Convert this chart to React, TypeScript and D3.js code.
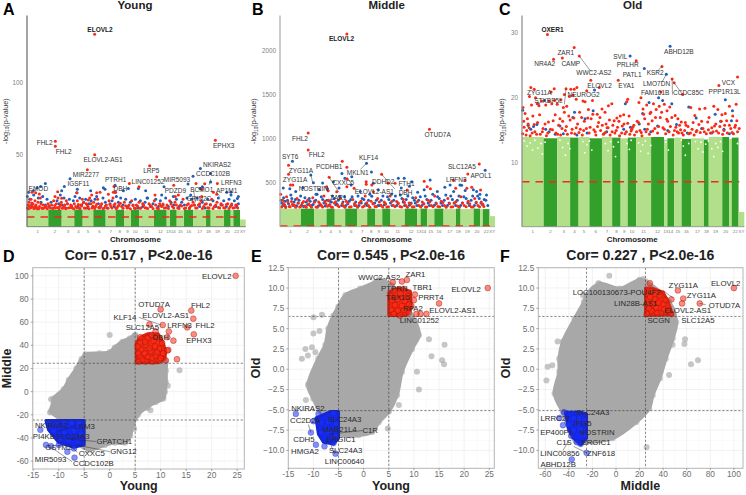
/** Six panel figure: Manhattan plots per age group, and pairwise effect size scatters. */
import * as d3 from "d3";

type Pt = [number, number];
type Lab = [string, number, number];
type Seg = [number, number, number, number];

const FONT = "'Liberation Sans', Arial, sans-serif";
const LIGHT_GREEN = "#b2df8a";
const DARK_GREEN = "#33a02c";
const RED_DOT = "#fb2a16";
const BLUE_DOT = "#1f5fb8";
const CLOUD_GREY = "#a8a8a8";

// Chromosome widths are the number of probes on it, in plot units
const chromNames = ["1", "2", "3", "4", "5", "6", "7", "8", "9", "10", "11", "12", "13", "14", "15", "16", "17", "18", "19", "20", "", "22", "XY"];
const chromSizes = [64, 40, 38, 25, 32, 37, 30, 25, 21, 25, 44, 38, 10, 20, 22, 28, 38, 14, 40, 20, 8, 20, 17];

// Top of the solid band per chromosome
const youngTops = [11.8, 11.8, 11.6, 11.9, 11.7, 11.8, 11.6, 11.8, 11.5, 11.8, 11.7, 11.8, 11.6, 11.8, 11.5, 11.8, 11.7, 11.8, 11.7, 11.8, 11.5, 11.6, 5];
const middleTops = [205, 205, 200, 205, 200, 205, 200, 205, 200, 205, 200, 205, 200, 205, 200, 205, 200, 205, 200, 205, 200, 200, 120];
const oldTops = [14, 13.8, 14, 13.9, 14, 13.8, 14, 13.9, 13.8, 13.9, 14, 14, 13.6, 13.8, 13.9, 13.7, 13.8, 13.6, 14, 14, 13.7, 13.9, 2.5];

const youngRed: Pt[] = [[203, 133.6], [85, 59.3], [85, 55.8], [203, 50], [181, 39.6], [565, 60], [368, 42.4], [389, 34.7], [261, 28], [307, 30], [336, 27.8], [440, 28.7], [571, 30], [507, 30], [533, 29.9],
  [524, 26], [559, 24], [569, 22.5], [524, 21], [384, 22], [454, 22], [445, 21], [259, 24], [266, 24], [244, 22.5], [15, 24], [26, 23.6], [37, 22.7], [92, 24.3], [84, 21], [149, 23.6], [209, 23.6], [219, 24], [104, 19.7], [184, 18.5], [194, 22],
  [3, 15], [6, 17], [9, 13], [12, 19], [16, 14], [18, 16], [22, 13], [24, 18], [27, 15], [31, 12.5], [33, 17], [37, 14], [40, 20], [44, 13], [49, 15], [52, 13], [58, 14], [63, 16], [70, 13], [74, 15], [80, 18], [85, 13], [88, 16], [93, 20], [98, 14], [103, 17], [108, 13], [113, 15], [118, 18], [124, 13], [131, 15], [136, 13], [142, 16], [146, 14], [151, 18], [156, 13], [161, 15], [166, 19], [172, 13], [178, 16], [183, 14], [188, 20], [195, 13], [200, 17], [206, 14], [212, 19], [218, 13], [224, 16], [232, 13], [238, 15], [246, 18], [252, 14], [258, 20], [264, 16], [270, 13], [276, 15], [284, 14], [292, 17], [300, 13], [306, 15], [314, 18], [322, 13], [328, 15], [336, 17], [342, 13], [350, 15], [358, 13], [366, 16], [374, 14], [382, 18], [390, 13], [398, 16], [404, 14], [412, 13], [420, 15], [428, 18], [436, 14], [444, 17], [452, 13], [460, 15], [468, 19], [476, 13], [484, 16], [490, 14], [498, 17], [506, 13], [514, 15], [522, 18], [530, 14], [538, 16], [546, 13], [554, 19], [562, 14], [570, 17], [578, 13], [586, 15], [594, 13], [602, 16], [610, 14], [618, 13], [626, 15], [632, 13],
  [1, 13], [4, 12.5], [7, 14.6], [11, 13.2], [14, 16.5], [20, 12.6], [25, 14.3], [29, 13.4], [35, 12.4], [42, 15.8], [47, 12.7], [55, 13.6], [61, 12.5], [67, 14.5], [77, 12.6], [83, 14.8], [91, 13.3], [96, 12.4], [101, 15], [106, 12.8], [111, 14], [116, 12.4], [121, 16], [128, 13.2], [134, 14.5], [140, 12.5], [149, 13.2], [154, 15.4], [159, 12.6], [164, 14.3], [169, 16.6], [175, 12.8], [181, 15.2], [186, 12.5], [192, 16], [198, 14.2], [203, 12.6], [209, 15.6], [215, 13.3], [221, 14.8], [228, 12.6], [235, 14.4], [243, 12.8], [249, 15.5], [255, 13], [261, 15], [267, 12.6], [273, 14.2], [280, 16.2], [288, 12.8], [296, 14.6], [303, 13.2], [310, 12.5], [318, 14.7], [325, 12.6], [332, 14.2], [339, 12.8], [347, 16], [354, 13.2], [362, 12.6], [370, 14.8], [378, 12.7], [386, 15], [394, 12.5], [401, 14.6], [408, 15.8], [416, 13.2], [424, 12.7], [432, 15.8], [440, 13], [448, 15], [456, 12.6], [464, 14.3], [472, 12.7], [480, 15], [487, 12.6], [494, 14.7], [502, 15], [510, 13], [518, 16], [526, 12.6], [534, 15.6], [542, 13.2], [550, 15.5], [558, 12.7], [566, 15], [574, 13.3], [582, 16], [590, 13.1], [598, 15.4], [606, 12.7], [614, 15.7], [622, 13.2], [629, 15.1]];
const youngBlue: Pt[] = [[55, 30], [41, 28], [5, 24], [19, 25], [30, 27], [129, 33.3], [112, 28], [104, 25], [151, 26], [150, 23.5], [191, 25], [229, 27], [234, 26], [209, 21], [304, 26.6], [264, 28.7], [264, 24], [289, 25], [356, 25], [334, 26.6], [411, 27.8], [483, 29.6], [498, 35], [520, 40.5], [551, 31], [551, 37], [519, 26.6], [526, 27.8], [491, 22], [599, 24], [612, 24], [612, 22], [634, 21], [631, 19.5], [404, 22], [439, 21], [360, 20],
  [1, 21], [8, 19], [14, 15], [20, 22], [25, 13], [34, 20], [42, 17], [47, 21], [55, 15], [60, 19], [66, 14], [72, 17], [78, 13], [90, 18], [96, 16], [100, 22], [106, 15], [111, 20], [116, 13], [121, 16], [127, 19], [133, 14], [139, 18], [144, 21], [153, 14], [158, 20], [164, 15], [170, 17], [176, 19], [181, 13], [186, 16], [192, 18], [198, 14], [204, 19], [214, 16], [221, 14], [228, 20], [235, 17], [241, 13], [249, 16], [255, 18], [262, 14], [268, 21], [274, 17], [281, 20], [288, 15], [296, 19], [303, 14], [310, 17], [318, 15], [325, 19], [332, 13], [340, 18], [347, 14], [354, 17], [362, 20], [370, 14], [378, 16], [386, 19], [394, 14], [400, 18], [408, 15], [416, 20], [424, 14], [432, 17], [440, 15], [448, 19], [456, 14], [464, 17], [472, 15], [480, 20], [487, 13], [494, 19], [502, 15], [510, 20], [518, 14], [526, 17], [534, 13], [542, 19], [550, 15], [558, 18], [566, 14], [574, 20], [582, 15], [590, 18], [598, 14], [606, 19], [614, 15], [622, 18], [629, 14], [634, 16]];

const middleRed: Pt[] = [[204, 2190], [456, 1107], [86, 1065], [86, 872], [608, 712], [573, 599], [26, 697], [26, 595], [190, 743], [204, 675], [150, 561], [310, 595], [263, 512], [263, 481], [39, 474], [32, 474], [440, 515], [449, 455], [459, 432], [529, 527], [564, 530], [536, 436], [570, 436], [585, 447], [612, 417], [351, 493], [330, 493], [388, 417], [204, 542], [204, 455], [226, 436], [142, 455], [147, 409], [173, 398], [280, 474], [285, 398],
  [2, 370], [8, 300], [14, 250], [20, 340], [28, 230], [35, 285], [44, 245], [52, 320], [60, 225], [68, 270], [76, 235], [84, 300], [92, 240], [100, 330], [110, 225], [118, 280], [126, 240], [134, 350], [140, 260], [148, 300], [156, 225], [166, 270], [176, 240], [184, 320], [194, 235], [202, 290], [212, 225], [222, 310], [232, 240], [242, 270], [252, 225], [260, 350], [270, 240], [278, 290], [290, 230], [298, 320], [308, 245], [318, 280], [326, 225], [336, 350], [346, 240], [356, 285], [366, 230], [376, 310], [384, 240], [394, 270], [404, 225], [414, 330], [424, 240], [434, 280], [444, 225], [452, 300], [462, 240], [472, 350], [482, 230], [492, 290], [502, 240], [512, 320], [522, 225], [532, 270], [542, 235], [552, 340], [562, 240], [574, 290], [584, 225], [594, 320], [604, 240], [614, 280], [622, 230],
  [5, 225], [11, 262], [17, 218], [24, 280], [31, 226], [38, 255], [48, 222], [56, 268], [64, 232], [72, 286], [80, 222], [88, 258], [96, 222], [105, 278], [114, 220], [122, 260], [130, 225], [137, 288], [145, 232], [152, 252], [160, 222], [170, 284], [180, 226], [190, 260], [198, 222], [207, 270], [217, 228], [227, 262], [237, 222], [247, 290], [257, 236], [265, 272], [274, 222], [284, 262], [294, 226], [303, 280], [313, 224], [322, 258], [331, 226], [341, 286], [351, 226], [361, 264], [371, 224], [380, 276], [389, 222], [399, 258], [409, 228], [419, 284], [429, 224], [439, 262], [448, 224], [457, 280], [467, 226], [477, 260], [487, 226], [497, 276], [507, 222], [517, 262], [527, 226], [537, 284], [547, 222], [557, 268], [568, 226], [579, 262], [589, 224], [599, 278], [609, 226], [619, 256]];
const middleBlue: Pt[] = [[38, 743], [626, 640], [94, 587], [102, 500], [189, 603], [130, 496], [264, 720], [279, 622], [163, 512], [198, 550], [217, 474], [219, 568], [285, 493], [361, 550], [379, 550], [402, 512], [458, 530], [503, 447], [519, 474], [549, 474], [554, 470], [565, 410], [10, 440], [30, 430], [48, 400], [70, 446], [120, 420], [110, 370], [145, 430], [180, 440], [245, 400], [300, 420], [340, 370], [370, 440], [395, 460], [420, 390], [440, 420], [480, 400], [530, 400], [590, 420], [600, 400], [610, 370], [630, 360],
  [5, 270], [11, 330], [17, 230], [23, 300], [33, 360], [40, 240], [47, 310], [55, 270], [63, 350], [72, 230], [80, 280], [89, 320], [97, 240], [105, 290], [113, 370], [122, 250], [130, 310], [138, 235], [152, 290], [160, 350], [170, 250], [178, 300], [188, 240], [197, 340], [207, 260], [216, 310], [228, 240], [238, 350], [248, 270], [256, 310], [266, 240], [274, 370], [284, 260], [294, 300], [304, 240], [314, 350], [322, 260], [332, 310], [342, 240], [352, 350], [360, 270], [372, 320], [380, 240], [390, 350], [400, 270], [410, 300], [418, 240], [428, 340], [438, 260], [448, 310], [456, 240], [466, 370], [476, 270], [486, 320], [496, 240], [506, 360], [516, 270], [526, 310], [536, 240], [546, 350], [556, 270], [568, 320], [578, 240], [588, 350], [598, 270], [608, 320], [618, 250], [628, 300], [634, 240],
  [3, 300], [9, 240], [15, 290], [26, 262], [36, 320], [43, 280], [51, 238], [58, 300], [66, 246], [76, 330], [84, 248], [92, 290], [101, 252], [109, 300], [117, 235], [126, 340], [134, 270], [143, 300], [149, 240], [157, 280], [165, 320], [174, 258], [182, 345], [192, 280], [201, 240], [211, 290], [220, 340], [231, 280], [241, 240], [251, 320], [261, 260], [270, 300], [280, 345], [289, 270], [299, 240], [309, 300], [318, 250], [328, 340], [337, 270], [347, 300], [356, 240], [367, 360], [376, 280], [385, 310], [395, 245], [405, 330], [413, 270], [423, 300], [433, 240], [443, 350], [452, 270], [461, 300], [471, 245], [481, 340], [491, 270], [501, 300], [511, 240], [521, 350], [531, 270], [541, 300], [551, 240], [561, 340], [573, 270], [583, 300], [593, 240], [603, 350], [613, 270], [623, 310]];

const oldRed: Pt[] = [[75, 29.7], [154, 27.7], [93, 25.9], [119, 26.1], [169, 26.4], [337, 25.7], [413, 24.8], [203, 22.7], [284, 22.7], [443, 22.9], [449, 22.3], [474, 20.5], [636, 23.2], [581, 21.9], [26, 21.6], [36, 21.3], [95, 21.4], [130, 21.4], [144, 21.3], [162, 21.6], [154, 21.3], [228, 21.6], [191, 21.1], [125, 20.5], [86, 20.9], [410, 20.9], [351, 20], [312, 19.8], [309, 19.4],
  [3, 18.5], [9, 17.6], [16, 16.8], [22, 20.2], [28, 18.9], [40, 20], [45, 19.1], [50, 18.8], [58, 19.5], [70, 18.9], [80, 19.5], [88, 19.1], [96, 19.6], [104, 19], [115, 19.7], [122, 18.5], [132, 18.7], [140, 20.2], [150, 20.4], [160, 19.8], [170, 17.8], [180, 19.5], [186, 19.4], [196, 18.2], [208, 19.6], [222, 17.5], [236, 18.3], [245, 17.8], [255, 18.8], [265, 19.1], [280, 16.9], [290, 17.2], [300, 17.4], [327, 15.5], [345, 19.3], [357, 18.3], [368, 18.9], [378, 17.6], [388, 19.1], [396, 18.2], [405, 18.7], [420, 19], [428, 18], [436, 18.6], [452, 17.3], [460, 16.8], [470, 16.3], [482, 16.2], [498, 18.5], [510, 17.3], [524, 18.3], [540, 18.4], [552, 17], [566, 18.7], [578, 18.2], [590, 17.4], [600, 17.6], [612, 18.7], [622, 17.2], [632, 19],
  [2, 14.5], [6, 15.5], [12, 14.3], [18, 16], [24, 14.2], [32, 17.2], [38, 14.8], [46, 16.2], [54, 14.4], [62, 15.3], [72, 14.2], [78, 16.3], [84, 15.2], [92, 16.5], [100, 14.6], [108, 15.8], [114, 14.3], [120, 16.4], [128, 15], [134, 14.4], [142, 16.6], [148, 15.2], [156, 14.5], [164, 16], [172, 15.2], [178, 14.3], [184, 16.4], [190, 15.3], [198, 14.6], [204, 16.8], [212, 15.1], [218, 14.3], [226, 16.2], [232, 15], [240, 14.4], [248, 16], [254, 15.4], [260, 14.3], [268, 15.8], [274, 14.6], [282, 15.5], [288, 14.2], [296, 15.7], [304, 14.5], [312, 16.1], [318, 14.4], [324, 15.2], [332, 14.3], [340, 16.4], [348, 15], [354, 14.2], [362, 16.8], [370, 15.2], [376, 14.4], [384, 16.5], [392, 15.3], [400, 14.6], [408, 17], [416, 15.4], [424, 14.5], [430, 16.4], [438, 15.6], [446, 14.3], [454, 15.5], [462, 14.6], [468, 15.1], [476, 14.3], [484, 15.8], [492, 14.5], [502, 15.2], [508, 14.3], [516, 15], [526, 14.7], [534, 15.3], [544, 14.5], [550, 15.1], [560, 15.4], [568, 15.7], [574, 14.9], [584, 15.6], [592, 14.4], [598, 15.8], [606, 14.6], [616, 15.3], [624, 14.5], [630, 15.8], [636, 14.8], [641, 15.3],
  [5, 16.4], [14, 15], [21, 15.4], [30, 14.6], [36, 15.9], [43, 14.4], [52, 17.4], [60, 14.8], [68, 16], [76, 14.6], [90, 15.1], [98, 17.4], [105, 14.4], [112, 16.8], [118, 15.3], [125, 17.8], [131, 15.6], [138, 17.2], [146, 14.6], [153, 16.9], [160, 15.4], [168, 14.7], [176, 17], [182, 15], [194, 16.9], [201, 15.5], [209, 17.5], [216, 14.8], [223, 15.6], [230, 17], [237, 15.8], [246, 14.7], [251, 15.4], [258, 16.6], [266, 14.8], [272, 16.5], [278, 15], [286, 16.4], [294, 14.6], [301, 16], [308, 14.8], [316, 17.2], [322, 14.9], [330, 15.8], [338, 14.8], [344, 16.2], [352, 14.7], [359, 17.5], [366, 14.8], [373, 16], [380, 17.8], [386, 14.9], [394, 17], [403, 15.6], [412, 17.8], [420, 15.2], [427, 16.7], [434, 14.8], [442, 17], [450, 15], [458, 14.8], [465, 15.8], [472, 14.6], [480, 15], [490, 15.6], [497, 14.6], [505, 16.2], [514, 14.8], [522, 15.9], [530, 16.4], [538, 14.8], [548, 16.3], [556, 14.6], [564, 14.8], [572, 16], [580, 14.6], [588, 16.4], [596, 15], [604, 16.5], [612, 15.8], [620, 14.7], [628, 15.5], [634, 16.5]];
const oldBlue: Pt[] = [[319, 26.4], [437, 27.9], [361, 24.5], [426, 23.6], [214, 21.2], [600, 19.7], [621, 18], [403, 20], [415, 19.6], [305, 19.1], [375, 19.3], [442, 19.1], [492, 18.6], [155, 17.8], [210, 18], [66, 19.6], [2, 18.1], [48, 19.1], [18, 15.8], [26, 15.2], [34, 15.6], [44, 15.9], [70, 15.2], [80, 14.8], [98, 14.4], [112, 15.7], [122, 14.5], [150, 17], [162, 14.3], [186, 16.8], [192, 14.6], [242, 14.5], [250, 14.8], [300, 15.2], [320, 15.5], [346, 16], [356, 17.6], [362, 15.2], [380, 14.8], [400, 15.7], [430, 15], [456, 15.9], [488, 14.6], [514, 16.9], [530, 15.3], [560, 14.6], [570, 17.5], [586, 16.4], [596, 15.2], [612, 14.5], [618, 16.5]];

// Gaps in the top of the solid Old band
const oldGaps: Pt[] = [[6, 13.4], [15, 12.6], [24, 13.1], [31, 12], [38, 13.5], [47, 12.3], [56, 13], [60, 11.4], [68, 13.2], [112, 13.5], [120, 12.4], [128, 11.2], [136, 13], [141, 12.2], [180, 13.3], [185, 11.6], [192, 12.8], [199, 13.4], [206, 12], [246, 13], [254, 11.9], [262, 13.3], [270, 12.5], [276, 11], [284, 13.2], [310, 13], [317, 12.1], [322, 13.5], [344, 13.1], [350, 11.8], [356, 12.8], [364, 13.4], [372, 11.5], [380, 12.7], [424, 13.2], [432, 12], [470, 13.5], [476, 12.6], [482, 11.2], [492, 13], [512, 13.3], [520, 12.2], [528, 13.2], [534, 11.7], [542, 12.9], [550, 13.4], [560, 12.2], [566, 11], [572, 13], [578, 12.4], [586, 13.3], [592, 11.8], [636, 13]];

const youngLabels: Lab[] = [["FHL2", 53, 58.3], ["FHL2", 110, 52.3], ["ELOVL2-AS1", 228, 46.3], ["MIR2277", 177, 36.1], ["IGSF11", 154, 29.6], ["EMOD", 34, 26.4], ["PTRH1", 266, 32.6], ["DBH", 280, 26.2], ["LINC01252", 363, 31.3], ["LRP5", 373, 38.7], ["MIR5093", 450, 32.4], ["PDZD9", 445, 25.2], ["BCMO1", 524, 25.9], ["GRIN2C", 516, 19.2], ["NKIRAS2", 570, 43.3], ["CCDC102B", 558, 36.8], ["LRFN3", 613, 30.8], ["EPHX3", 590, 56.2], ["AP1M1", 599, 24.8]];
const middleLabels: Lab[] = [["FHL2", 61, 1000], ["FHL2", 112, 815], ["OTUD7A", 481, 1050], ["SYT6", 31, 796], ["ZYG11A", 64, 637], ["ZYG11A", 46, 534], ["PCDHB1", 150, 686], ["NOSTRIN", 102, 436], ["KLF14", 270, 781], ["MKLN1", 237, 614], ["CXXC5", 193, 504], ["ELOVL2-AS1", 288, 402], ["DDHD2", 315, 512], ["FTH1", 386, 493], ["DBH", 383, 387], ["SLC12A5", 555, 682], ["APOL1", 613, 584], ["LRFN3", 538, 534], ["ZAR1", 178, 334]];
const oldLabels: Lab[] = [["ZAR1", 129, 26.9], ["NR4A2", 67, 25.2], ["CAMP", 144, 25.2], ["WWC2-AS2", 212, 23.9], ["SVIL", 290, 26.3], ["PRLHR", 312, 25], ["PATL1", 325, 23.5], ["ABHD12B", 463, 27.1], ["KSR2", 393, 23.8], ["LMO7DN", 397, 22.2], ["EYA1", 308, 21.9], ["ELOVL2", 229, 21.9], ["NEUROG2", 182, 20.5], ["ZYG11A", 51, 20.8], ["STXBP5L", 78, 19.5], ["FAM161B", 393, 20.8], ["CCDC85C", 491, 20.8], ["VCX", 609, 22.3], ["PPP1R13L", 598, 21]];

const youngLinks: Seg[] = [[505, 17, 500, 25], [551, 33, 546, 29], [569, 24, 578, 21]];
const middleLinks: Seg[] = [[264, 720, 245, 650], [94, 587, 100, 500], [310, 595, 350, 430], [219, 480, 205, 560], [150, 561, 180, 390]];
const oldLinks: Seg[] = [[169, 26.4, 204, 24], [125, 19, 130, 21.4], [413, 24.8, 398, 24], [426, 23.6, 413, 22.4], [443, 22.9, 444, 20.5], [449, 22.3, 474, 20.5]];

// Scatter panels: outline of the grey cloud, lone grey points, coloured groups
const dCloud: Pt[] = [[-4.7, 32], [-2, 33], [0, 34], [1, 38], [2.5, 43], [4, 46], [5, 49], [6, 40], [8, 38], [10, 35], [11, 26], [11, 18], [11, 8], [10.8, 0], [10.5, -6], [9, -9], [7, -14], [5.5, -20], [4.5, -29], [4, -38], [3, -44], [1, -44], [-1, -46], [-4, -50], [-6, -45], [-8, -25], [-10, -22], [-11.5, -17], [-11, -9], [-11, -6], [-9, 2], [-8, 10], [-6.5, 20], [-5.5, 28]];
const dOutliers: Pt[] = [[13.7, 18.5], [0, 49], [5, 48], [11.4, 5], [10.5, -4], [-11.5, -6.5], [-11.7, -18], [-11, -12], [7.5, -14], [8, -16], [4.8, -32]];
const dRedArea: Pt[] = [[5.2, 25], [5.2, 42], [6, 47], [7.5, 50], [9.5, 50], [10.4, 43], [11, 35], [10.8, 28], [9.5, 25]];
const dRed: Pt[] = [[24.7, 100], [10, 71], [16, 70], [16.4, 63], [15.2, 55.5], [16.5, 49.5], [12.5, 44], [11.5, 36], [13.2, 28], [10.4, 57.5], [11.6, 52], [11.3, 47], [10.3, 42], [11.3, 35.5], [7.8, 58], [9, 52], [8.2, 49], [7.4, 46], [6, 47], [5.9, 42], [7.2, 40], [8.6, 44], [9.8, 46], [6.2, 36], [8, 35], [9.7, 37], [10.5, 33], [6, 30], [7.5, 30], [9, 31], [5.7, 26], [7, 26], [8.4, 26], [9.8, 27], [11, 27], [6.8, 33], [8.9, 39], [5.5, 39], [7, 43], [10, 29], [6.4, 27.5], [7.8, 37.5], [9.3, 34], [8.3, 29], [5.6, 33]];
const dBlueArea: Pt[] = [[-12.5, -25], [-12, -33], [-10, -44], [-7, -48], [-5, -46], [-5, -25]];
const dBlue: Pt[] = [[-13.6, -33], [-12.5, -46], [-11.5, -47], [-8.3, -52], [-6.9, -57], [-10, -46], [-7, -49], [-12, -27], [-10.5, -28], [-9, -27], [-7.5, -27], [-6, -27], [-11, -34], [-9, -35], [-7, -34], [-5.6, -36], [-9.7, -41], [-8, -42], [-6.3, -43]];
const dLabels: Lab[] = [["ELOVL2", 21, 99.3], ["OTUD7A", 8.7, 75.4], ["FHL2", 17.8, 74.5], ["ELOVL2-AS1", 11, 65.9], ["KLF14", 3, 64.2], ["LRFN3", 13.7, 57.3], ["FHL2", 18.7, 57.6], ["SLC12A5", 6.4, 55.5], ["DBH", 10, 47.2], ["EPHX3", 17.5, 44], ["NKIRAS2", -11.4, -29], ["LSM3", -4.9, -30], ["PI4KB", -12.9, -38.3], ["SLC24A3", -7.2, -38.8], ["GPATCH1", 0.9, -43.2], ["GNG12", 2.7, -51.8], ["CXXC5", -3.5, -53], ["GSTM2", -10, -48.3], ["MIR5093", -11.6, -58], ["CCDC102B", -3.2, -61.9]];
const dLinks: Seg[] = [[5.7, 64.2, 10.1, 57.5], [-8.3, -41, -2.7, -43], [-6.6, -46, 0, -51.8], [-7.6, -47.5, -6.3, -52.4], [-12.2, -46, -7.4, -60.4], [-10.2, -34.5, -7, -30.2]];

const eCloud: Pt[] = [[2.3, 10.7], [-0.7, 9.9], [-3.6, 9.1], [-5, 7.7], [-6, 6.6], [-7, 5], [-7.6, 3], [-9, 1.3], [-11, -2], [-10, -3.6], [-8.6, -5.2], [-4.3, -8.1], [-1, -8.1], [1.7, -7.7], [3, -6.5], [5, -5.2], [6.6, -3.2], [7.6, -0.3], [9.6, 2.5], [11, 4.2], [10.3, 5.8], [8.3, 7.9], [5.6, 10.3], [3, 11]];
const eOutliers: Pt[] = [[13, 3.7], [16.1, 3], [15.6, 1.1], [16, 0.6], [13.5, 1.6], [10.6, -0.3], [11, -2.5], [-11.1, 1.7], [-12.3, 1.3], [-10.3, 2.7], [-10, 4.4], [-11.6, 2.5], [-9.6, 2.1], [-11, -1.8], [-11.5, -3.8], [7, -4.4], [4.8, -7.3], [-10, 6.4], [-8.3, 6.7], [-5, 7.5], [-8.8, 4.7]];
const eRedArea: Pt[] = [[5, 6.6], [5, 9.5], [7, 10], [9.3, 9.6], [9.5, 7.5], [8.5, 6.6]];
const eRed: Pt[] = [[24.7, 10], [15, 8.1], [5.8, 10.7], [8.6, 11], [7.6, 10.8], [12.5, 6.8], [11.3, 6.8], [10.2, 9.2], [10, 8.5], [9.5, 7.8], [6, 9.7], [8, 9.9], [5.6, 8.5], [6.8, 8.6], [8.2, 8.4], [5.5, 7.3], [6.8, 7.2], [8, 7.3], [9, 7], [6, 6.8], [7.2, 6.6], [10.5, 6.8], [5.4, 9], [7.3, 9.3], [8.8, 9], [6.2, 7.9], [7.6, 7.8], [9, 8]];
const eBlueArea: Pt[] = [[-9.5, -6], [-6.5, -5.2], [-5, -5.2], [-5, -8.5], [-6, -9.2], [-8, -9], [-9, -8]];
const eBlue: Pt[] = [[-13.5, -5.5], [-10.5, -7.8], [-9.5, -9.3], [-7.8, -9.5], [-6, -9.1], [-5.6, -10.4], [-10, -6.4], [-9, -5.5], [-6, -5.4], [-8.5, -6.6], [-7, -6.5], [-5.5, -6.7], [-8.5, -7.8], [-7, -7.8], [-5.6, -8]];
const eLabels: Lab[] = [["ELOVL2", 20.4, 9.9], ["ZAR1", 10.3, 11.7], ["WWC2-AS2", 3.1, 11.3], ["PTPRN", 6.1, 10], ["TBR1", 11.7, 10.1], ["TBX15", 6.8, 8.8], ["PRRT4", 13.4, 8.8], ["RPA2", 9.8, 7.55], ["ELOVL2-AS1", 17.7, 7.27], ["LINC01252", 11.1, 6], ["NKIRAS2", -11.1, -4.84], ["CC2D2A", -11.6, -6.3], ["SLC24A3", -3.8, -6.2], ["MAB21L4", -4.8, -7.43], ["C1R", 1.3, -7.55], ["CDH5", -11.9, -8.6], ["ERGIC1", -4.5, -8.6], ["HMGA2", -11.7, -10.1], ["SLC24A3", -3.6, -10], ["LINC00640", -3.8, -11.3]];
const eLinks: Seg[] = [[-11, -6.8, -10.5, -7.8], [-7, -8, -0.2, -7.55], [-6.5, -7.9, -5.8, -8.3], [-5.8, -10.4, -6.5, -9.4]];

const fCloud: Pt[] = [[-25, 9.1], [-14, 10.5], [3, 9.9], [20, 11], [25, 10.8], [45, 8.3], [51, 5.8], [48, 3.8], [42, 1.3], [37, -1.1], [31, -3.2], [28, -4.8], [17, -6.5], [-3, -8.5], [-20, -8.9], [-34, -8.9], [-45, -5.3], [-52, -3], [-48, -0.3], [-48, 1.3], [-45, 3.4], [-35, 6.2], [-27, 8.3]];
const fOutliers: Pt[] = [[63.6, 0.6], [69.5, 1.1], [58.5, 3.7], [58, 3.1], [-54, 0.5], [-58, 0.3], [-59, -1.4], [-51, -2.8], [-49.5, 3.4], [26, -9.6], [37, -0.1], [45, -0.7], [48, 3], [-5.7, 11.5], [20, 10.9], [23, 11.1], [-28, 9.1], [-15, 10.6]];
const fRedArea: Pt[] = [[25, 6.6], [25, 10], [30, 10], [40, 9.5], [45, 8], [48, 6.7]];
const fRed: Pt[] = [[100, 10], [71, 8.1], [52.5, 9.7], [57, 8.7], [56, 8.1], [47, 8.6], [42, 8.5], [28.7, 10.6], [30, 9.6], [37, 9.1], [26, 9.3], [33, 8.6], [40, 8], [27, 8], [34, 7.6], [44, 7.2], [30, 7.2], [26, 6.8], [38, 6.9], [47, 6.8], [29, 8.9], [36, 8.2], [31, 8], [41, 7.4], [28, 7.5], [35, 6.9]];
const fBlueArea: Pt[] = [[-43, -5.3], [-30, -5.3], [-25, -5.5], [-25, -8.5], [-30, -9.3], [-36, -8.5], [-40, -7.5]];
const fBlue: Pt[] = [[-37.5, -11.1], [-48, -6], [-45, -6.9], [-44, -5.3], [-25, -10.3], [-30, -9.2], [-33, -9], [-38, -8.2], [-40, -6.8], [-36, -6], [-31, -6.1], [-27, -6.3], [-36, -7.5], [-30, -7.4], [-26, -8.1]];
const fLabels: Lab[] = [["ELOVL2", 93, 10.6], ["ZYG11A", 57, 10.3], ["ZYG11A", 72.4, 9.07], ["LOC100130673-POU4F2", 0.6, 9.44], ["LIN28B-AS1", 16.7, 8.1], ["OTUD7A", 92, 7.9], ["ELOVL2-AS1", 60.8, 7.3], ["SCGN", 36.2, 6.08], ["SLC12A5", 69.5, 6.08], ["SLC24A3", -19.8, -5.34], ["LRRC27", -51.4, -6], ["IFI35", -28.3, -6.6], ["EP400P1", -50.3, -7.8], ["NOSTRIN", -16, -7.8], ["C1S", -44, -9], ["ERGIC1", -17, -9], ["LINC00856", -47.5, -10.3], ["ZNF618", -12.7, -10.3], ["ABHD12B", -49, -11.7]];
const fLinks: Seg[] = [[40, 9.7, 48, 8.8], [-40, -8.8, -45, -10], [-36, -9.5, -25, -10.3], [71, 8.1, 76, 7.95]];

const dYTicks = [-60, -40, -20, 0, 20, 40, 60, 80, 100];
const oldYTicks = [-10, -7.5, -5, -2.5, 0, 2.5, 5, 7.5, 10, 12.5];
const youngXTicks = [-15, -10, -5, 0, 5, 10, 15, 20, 25];
const middleXTicks = [-60, -40, -20, 0, 20, 40, 60, 80, 100];

function Manhattan(props: {
  left: number; right: number; top: number; bottom: number;
  yMin: number; yMax: number; ticks: number[];
  tops: number[]; red: Pt[]; blue: Pt[]; gaps?: Pt[]; labels: Lab[]; links: Seg[];
  threshold: number; leadName: string; lead: Pt; title: string; titleX: number;
  letter: string; letterX: number; yTitleX: number; spine: string;
}) {
  const { left, right, top, bottom, yMin, yMax, ticks, tops, red, blue, gaps, labels, links, threshold, leadName, lead, title, titleX, letter, letterX, yTitleX, spine } = props;
  const x = d3.scaleLinear().domain([0, d3.sum(chromSizes)]).range([left, right]);
  const y = d3.scaleLinear().domain([yMin, yMax]).range([bottom, top]);
  const starts = d3.cumsum([0, ...chromSizes]);
  return (
    <g fontFamily={FONT}>
      <text x={letterX} y={15} fontSize={16} fontWeight={700}>{letter}</text>
      <text x={titleX} y={9} fontSize={11.5} fontWeight={700} textAnchor="middle" fill="#222">{title}</text>

      {chromSizes.map((s, i) => (
        <rect key={i} x={x(starts[i])} width={x(starts[i] + s) - x(starts[i])} y={y(tops[i])} height={bottom - y(tops[i])}
          fill={i % 2 === 0 ? LIGHT_GREEN : DARK_GREEN} />
      ))}
      {gaps?.map((d, i) => <circle key={i} cx={x(d[0])} cy={y(d[1])} r={0.9} fill="#fff" />)}
      <line x1={left} x2={right - 5} y1={y(threshold)} y2={y(threshold)} stroke="#ee2a1c" strokeWidth={1.5} strokeDasharray="7.5 6" />

      {blue.map((d, i) => <circle key={i} cx={x(d[0])} cy={y(d[1])} r={1.5} fill={BLUE_DOT} />)}
      {red.map((d, i) => <circle key={i} cx={x(d[0])} cy={y(d[1])} r={1.5} fill={RED_DOT} />)}

      {links.map((s, i) => <line key={i} x1={x(s[0])} y1={y(s[1])} x2={x(s[2])} y2={y(s[3])} stroke="#333" strokeWidth={0.5} />)}
      {labels.map((l, i) => (
        <text key={i} x={x(l[1])} y={y(l[2])} dy="0.35em" fontSize={6.5} textAnchor="middle" fill="#333">{l[0]}</text>
      ))}
      <text x={x(lead[0])} y={y(lead[1])} dy="0.35em" fontSize={6.5} fontWeight={700} textAnchor="middle" fill="#222">{leadName}</text>

      <line x1={left} x2={left} y1={top} y2={bottom} stroke={spine} strokeWidth={1.2} />
      <line x1={left} x2={right} y1={bottom} y2={bottom} stroke={spine} strokeWidth={0.8} />
      {ticks.map((t) => (
        <text key={t} x={left - 4} y={y(t)} dy="0.35em" fontSize={6.3} textAnchor="end" fill="#808080">{t}</text>
      ))}
      {chromNames.map((c, i) => (
        <text key={i} x={x(starts[i] + chromSizes[i] / 2)} y={bottom + 6} fontSize={4.4} textAnchor="middle" fill="#777">{c}</text>
      ))}
      <text x={(left + right) / 2 - 1} y={242} fontSize={7.9} fontWeight={700} textAnchor="middle" fill="#222">Chromosome</text>
      <text transform={`translate(${yTitleX},${(top + bottom) / 2}) rotate(-90)`} fontSize={7.2} textAnchor="middle" fill="#333">
        -log<tspan fontSize={4.8} dy={1.5}>10</tspan><tspan dy={-1.5}>(p-value)</tspan>
      </text>
    </g>
  );
}

function Scatter(props: {
  left: number; right: number; top: number; bottom: number;
  xDomain: [number, number]; yDomain: [number, number];
  xTicks: number[]; yTicks: number[]; vLines: number[]; hLines: number[];
  cloud: Pt[]; outliers: Pt[]; redArea: Pt[]; red: Pt[]; blueArea: Pt[]; blue: Pt[];
  labels: Lab[]; links: Seg[];
  title: string; titleX: number; xTitle: string; yTitle: string; letter: string; letterX: number; yTitleX: number;
  format?: (t: number) => string;
}) {
  const { left, right, top, bottom, xDomain, yDomain, xTicks, yTicks, vLines, hLines, cloud, outliers, redArea, red, blueArea, blue, labels, links, title, titleX, xTitle, yTitle, letter, letterX, yTitleX, format } = props;
  const x = d3.scaleLinear().domain(xDomain).range([left, right]);
  const y = d3.scaleLinear().domain(yDomain).range([bottom, top]);
  const smooth = d3.line<Pt>().x((d) => x(d[0])).y((d) => y(d[1])).curve(d3.curveCatmullRomClosed);
  const straight = d3.line<Pt>().x((d) => x(d[0])).y((d) => y(d[1])).curve(d3.curveLinearClosed);
  const clipId = `clip-${letter}`;
  const fmt = format ?? ((t: number) => String(t));
  const xMid = xTicks.slice(1).map((t, i) => (t + xTicks[i]) / 2);
  const yMid = yTicks.slice(1).map((t, i) => (t + yTicks[i]) / 2);
  return (
    <g fontFamily={FONT}>
      <clipPath id={clipId}><rect x={left} y={top} width={right - left} height={bottom - top} /></clipPath>
      <text x={letterX} y={262} fontSize={16} fontWeight={700}>{letter}</text>
      <text x={titleX} y={260} fontSize={14} fontWeight={700} textAnchor="middle" fill="#222">{title}</text>

      <rect x={left} y={top} width={right - left} height={bottom - top} fill="#fff" />
      <g stroke="#f2f2f2" strokeWidth={0.4}>
        {xMid.map((t) => <line key={t} x1={x(t)} x2={x(t)} y1={top} y2={bottom} />)}
        {yMid.map((t) => <line key={t} x1={left} x2={right} y1={y(t)} y2={y(t)} />)}
      </g>
      <g stroke="#e9e9e9" strokeWidth={0.6}>
        {xTicks.map((t) => <line key={t} x1={x(t)} x2={x(t)} y1={top} y2={bottom} />)}
        {yTicks.map((t) => <line key={t} x1={left} x2={right} y1={y(t)} y2={y(t)} />)}
      </g>

      <g clipPath={`url(#${clipId})`}>
        <path d={smooth(cloud) ?? ""} fill={CLOUD_GREY} stroke={CLOUD_GREY} strokeWidth={4} strokeLinejoin="round" />
        {cloud.map((d, i) => <circle key={i} cx={x(d[0])} cy={y(d[1])} r={3.2} fill={CLOUD_GREY} fillOpacity={0.6} />)}
        {outliers.map((d, i) => <circle key={i} cx={x(d[0])} cy={y(d[1])} r={3} fill={CLOUD_GREY} fillOpacity={0.65} />)}

        <path d={straight(redArea) ?? ""} fill="#fa2a10" stroke="#d82410" strokeWidth={3} strokeLinejoin="round" />
        {red.map((d, i) => <circle key={i} cx={x(d[0])} cy={y(d[1])} r={2.9} fill="#ff2a1a" fillOpacity={0.55} stroke="#8a1408" strokeWidth={0.4} />)}
        <path d={straight(blueArea) ?? ""} fill="#1428f0" stroke="#1428d8" strokeWidth={3} strokeLinejoin="round" />
        {blue.map((d, i) => <circle key={i} cx={x(d[0])} cy={y(d[1])} r={2.9} fill="#1e32ff" fillOpacity={0.55} stroke="#14209a" strokeWidth={0.3} />)}

        <g stroke="#333" strokeWidth={0.6} strokeDasharray="2.2 1.8">
          {vLines.map((v) => <line key={v} x1={x(v)} x2={x(v)} y1={top} y2={bottom} />)}
          {hLines.map((v) => <line key={v} x1={left} x2={right} y1={y(v)} y2={y(v)} />)}
        </g>
        {links.map((s, i) => <line key={i} x1={x(s[0])} y1={y(s[1])} x2={x(s[2])} y2={y(s[3])} stroke="#222" strokeWidth={0.45} />)}
        {labels.map((l, i) => (
          <text key={i} x={x(l[1])} y={y(l[2])} dy="0.35em" fontSize={7.8} textAnchor="middle" fill="#2a2a2a">{l[0]}</text>
        ))}
      </g>

      <rect x={left} y={top} width={right - left} height={bottom - top} fill="none" stroke="#b5b5b5" strokeWidth={1} />
      {xTicks.map((t) => (
        <g key={t}>
          <line x1={x(t)} x2={x(t)} y1={bottom} y2={bottom + 2} stroke="#555" strokeWidth={0.5} />
          <text x={x(t)} y={bottom + 9} fontSize={8.3} textAnchor="middle" fill="#6e6e6e">{t}</text>
        </g>
      ))}
      {yTicks.map((t) => (
        <g key={t}>
          <line x1={left - 2} x2={left} y1={y(t)} y2={y(t)} stroke="#555" strokeWidth={0.5} />
          <text x={left - 4} y={y(t)} dy="0.35em" fontSize={8.3} textAnchor="end" fill="#6e6e6e">{fmt(t)}</text>
        </g>
      ))}
      <text x={titleX} y={490} fontSize={12.5} fontWeight={700} textAnchor="middle" fill="#222">{xTitle}</text>
      <text transform={`translate(${yTitleX},${(top + bottom) / 2}) rotate(-90)`} fontSize={12.5} fontWeight={700} textAnchor="middle" fill="#222">{yTitle}</text>
    </g>
  );
}

const oneDecimal = d3.format(".1f");

export default function App() {
  return (
    <svg width={746} height={495} style={{ position: "absolute", left: 0, top: 0, background: "#fff" }}>
      <Manhattan left={27} right={245.7} top={15.6} bottom={226.7} yMin={0} yMax={146.6} ticks={[50, 100]}
        tops={youngTops} red={youngRed} blue={youngBlue} labels={youngLabels} links={youngLinks} threshold={6.7}
        leadName="ELOVL2" lead={[219, 137]} title="Young" titleX={135} letter="A" letterX={3} yTitleX={7.5} spine="#666" />
      <Manhattan left={280} right={495} top={15.6} bottom={226.7} yMin={0} yMax={2398} ticks={[500, 1000, 1500, 2000]}
        tops={middleTops} red={middleRed} blue={middleBlue} labels={middleLabels} links={middleLinks} threshold={7}
        leadName="ELOVL2" lead={[188, 2130]} title="Middle" titleX={386.7} letter="B" letterX={252} yTitleX={256} spine="#aaa" />
      <Manhattan left={522} right={744.3} top={15.6} bottom={226.7} yMin={0.25} yMax={32.6} ticks={[10, 20, 30]}
        tops={oldTops} red={oldRed} blue={oldBlue} gaps={oldGaps} labels={oldLabels} links={oldLinks} threshold={7.14}
        leadName="OXER1" lead={[90, 30.5]} title="Old" titleX={632.7} letter="C" letterX={499} yTitleX={504} spine="#888" />

      <Scatter left={32.7} right={244.3} top={267.7} bottom={469} xDomain={[-15.1, 26.4]} yDomain={[-66.8, 107]}
        xTicks={youngXTicks} yTicks={dYTicks} vLines={[-5, 5]} hLines={[24.5, -24.5]}
        cloud={dCloud} outliers={dOutliers} redArea={dRedArea} red={dRed} blueArea={dBlueArea} blue={dBlue} labels={dLabels} links={dLinks}
        title="Cor= 0.517 , P<2.0e-16" titleX={138.7} xTitle="Young" yTitle="Middle" letter="D" letterX={3} yTitleX={10.5} />
      <Scatter left={288.3} right={494.3} top={267.7} bottom={468.3} xDomain={[-15, 26]} yDomain={[-12.2, 12.5]}
        xTicks={youngXTicks} yTicks={oldYTicks} vLines={[-5, 5]} hLines={[6.5, -5.1]} format={oneDecimal}
        cloud={eCloud} outliers={eOutliers} redArea={eRedArea} red={eRed} blueArea={eBlueArea} blue={eBlue} labels={eLabels} links={eLinks}
        title="Cor= 0.545 , P<2.0e-16" titleX={391} xTitle="Young" yTitle="Old" letter="E" letterX={251} yTitleX={260} />
      <Scatter left={538.3} right={743} top={267.7} bottom={468.3} xDomain={[-65.9, 107.7]} yDomain={[-12.2, 12.5]}
        xTicks={middleXTicks} yTicks={oldYTicks} vLines={[-25, 25]} hLines={[6.5, -5.1]} format={oneDecimal}
        cloud={fCloud} outliers={fOutliers} redArea={fRedArea} red={fRed} blueArea={fBlueArea} blue={fBlue} labels={fLabels} links={fLinks}
        title="Cor= 0.227 , P<2.0e-16" titleX={640.3} xTitle="Middle" yTitle="Old" letter="F" letterX={500} yTitleX={510} />
    </svg>
  );
}
